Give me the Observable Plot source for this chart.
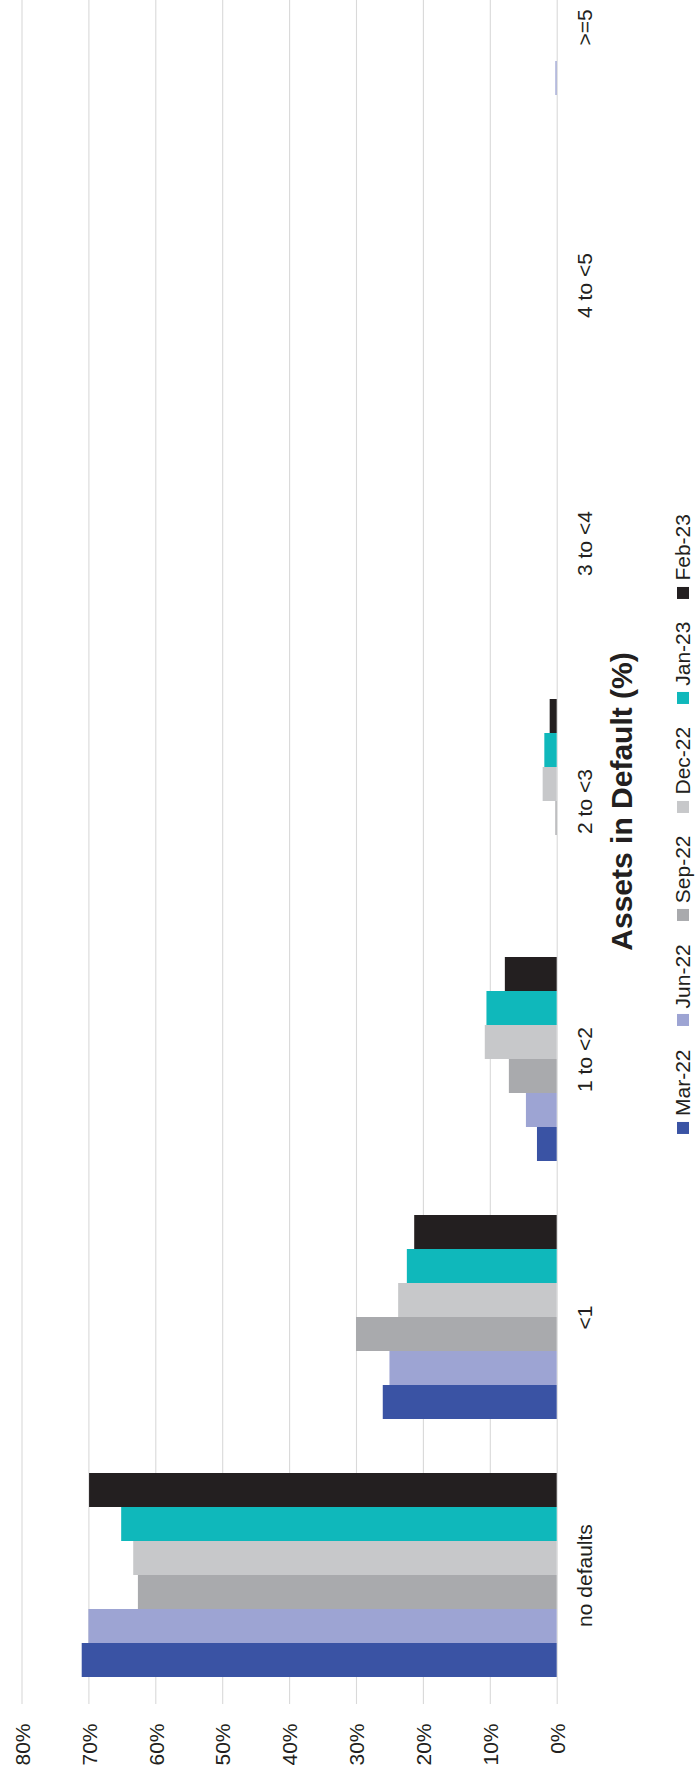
<!DOCTYPE html>
<html>
<head>
<meta charset="utf-8">
<script src="https://cdn.jsdelivr.net/npm/d3@7"></script>
<script src="https://cdn.jsdelivr.net/npm/@observablehq/plot@0.6"></script>
<style>
  html, body { margin: 0; padding: 0; background: #fff; }
  #wrap { position: relative; width: 695px; height: 1786px; overflow: hidden; font-family: "Liberation Sans", Arial, sans-serif; color: #231f20; }
  #legend { position: absolute; left: 682.5px; top: 824px; transform: translate(-50%, -50%) rotate(-90deg);
            display: flex; align-items: center; gap: 23px; white-space: nowrap; font-size: 21px; line-height: 24px; }
  #legend .item { display: flex; align-items: center; }
  #legend .sw { display: inline-block; width: 12px; height: 12px; margin-right: 6px; }
</style>
</head>
<body>
<div id="wrap"><div id="chart"></div><div id="legend"></div></div>
<script>
// Categories (bottom to top in the picture)
const categories = ["no defaults", "<1", "1 to <2", "2 to <3", "3 to <4", "4 to <5", ">=5"];
// Series
const series = ["Mar-22", "Jun-22", "Sep-22", "Dec-22", "Jan-23", "Feb-23"];
const colors = ["#3a53a4", "#9da4d3", "#a9aaad", "#c7c8ca", "#0fb8bb", "#231f20"];
// Values (% of assets), one array per series, in category order
const mar22 = [71.0, 26.0, 2.95, 0, 0, 0, 0];
const jun22 = [70.0, 25.0, 4.6, 0, 0, 0, 0.2];
const sep22 = [62.6, 30.0, 7.15, 0.2, 0, 0, 0];
const dec22 = [63.3, 23.7, 10.75, 2.1, 0, 0, 0];
const jan23 = [65.1, 22.4, 10.5, 1.85, 0, 0, 0];
const feb23 = [69.9, 21.3, 7.75, 1.05, 0, 0, 0];
// Value axis ticks
const xTicks = [0, 10, 20, 30, 40, 50, 60, 70, 80];
const xTickLabels = ["0%", "10%", "20%", "30%", "40%", "50%", "60%", "70%", "80%"];
const axisTitle = "Assets in Default (%)";

const seriesValues = [mar22, jun22, sep22, dec22, jan23, feb23];
const rows = [];
series.forEach((s, j) => categories.forEach((c, i) => rows.push({cat: c, series: s, value: seriesValues[j][i]})));

const lastCat = categories[0];
const midCat = categories[3];
const ticks = xTicks.map((t, i) => ({t, label: xTickLabels[i]}));

const chart = Plot.plot({
  width: 695,
  height: 1786,
  marginLeft: 21.5,
  marginRight: 138.3,
  marginTop: 0,
  marginBottom: 80,
  style: {fontFamily: "Liberation Sans, Arial, sans-serif", fontSize: "21px", color: "#231f20", background: "white"},
  x: {domain: [0, 80], reverse: true, axis: null},
  fy: {domain: categories.slice().reverse(), range: [-103.5, 1706], padding: 0, axis: null},
  y: {domain: series.slice().reverse(), paddingInner: 0, paddingOuter: 0.75, axis: null},
  color: {domain: series, range: colors},
  marks: [
    Plot.ruleX(xTicks, {x: d => d, stroke: "#d9d9d9", strokeWidth: 1.1}),
    Plot.barX(rows, {fy: "cat", y: "series", x1: 0, x2: "value", fill: "series"}),
    Plot.text(ticks, {fy: () => lastCat, x: "t", text: "label", frameAnchor: "bottom", dy: 19, dx: 1,
                      rotate: -90, textAnchor: "end", lineAnchor: "middle", fontSize: 21}),
    Plot.text(categories, {fy: d => d, text: d => d, frameAnchor: "right", dx: 28.5,
                      rotate: -90, textAnchor: "middle", lineAnchor: "middle", fontSize: 21}),
    Plot.text([axisTitle], {fy: () => midCat, text: d => d, frameAnchor: "right", dx: 65.5,
                      rotate: -90, textAnchor: "middle", lineAnchor: "middle", fontSize: 30, fontWeight: "bold"})
  ]
});
document.getElementById("chart").appendChild(chart);

const legend = document.getElementById("legend");
series.forEach((s, j) => {
  const item = document.createElement("div");
  item.className = "item";
  const sw = document.createElement("span");
  sw.className = "sw";
  sw.style.background = colors[j];
  const label = document.createElement("span");
  label.textContent = s;
  item.appendChild(sw);
  item.appendChild(label);
  legend.appendChild(item);
});
</script>
</body>
</html>
